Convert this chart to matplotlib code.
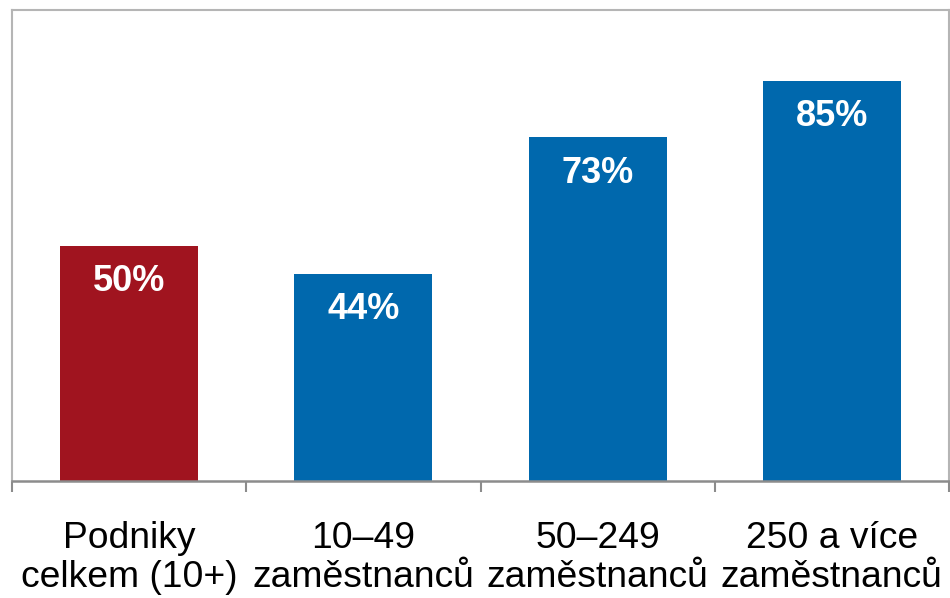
import matplotlib
matplotlib.use("Agg")
import matplotlib.pyplot as plt
from matplotlib.ticker import FixedLocator

categories = ["Podniky\ncelkem (10+)", "10–49\nzaměstnanců", "50–249\nzaměstnanců", "250 a více\nzaměstnanců"]
values = [50, 44, 73, 85]
colors = ["#A0141F", "#0068AD", "#0068AD", "#0068AD"]

plt.rcParams['font.family'] = ['Liberation Sans', 'DejaVu Sans']

fig = plt.figure(figsize=(9.5, 5.98), dpi=100)
ax = fig.add_axes([12/950, (598-481)/598, (949-12)/950, (481-10)/598])

x = list(range(len(values)))
bars = ax.bar(x, values, width=0.59, color=colors, zorder=2)
ax.set_xlim(-0.5, len(values) - 0.5)
ax.set_ylim(0, 100)

for xi, v in zip(x, values):
    ax.annotate(f"{v}%", (xi, v), xytext=(0, -26), textcoords="offset points",
                ha="center", va="center", color="white", fontsize=26, fontweight="bold")

ax.set_xticks(x)
ax.set_xticklabels(categories, fontsize=26.8, linespacing=1.12)
ax.tick_params(axis="x", which="major", length=0, pad=29)
ax.xaxis.set_minor_locator(FixedLocator([i - 0.5 for i in range(len(values) + 1)]))
ax.tick_params(axis="x", which="minor", length=8, width=1.5, color="#8c8c8c")
ax.set_yticks([])

for s in ["left", "top", "right"]:
    ax.spines[s].set_color("#b5b5b5")
    ax.spines[s].set_linewidth(1.5)
ax.spines["bottom"].set_color("#8c8c8c")
ax.spines["bottom"].set_linewidth(1.8)

fig.savefig("out.png", dpi=100)
